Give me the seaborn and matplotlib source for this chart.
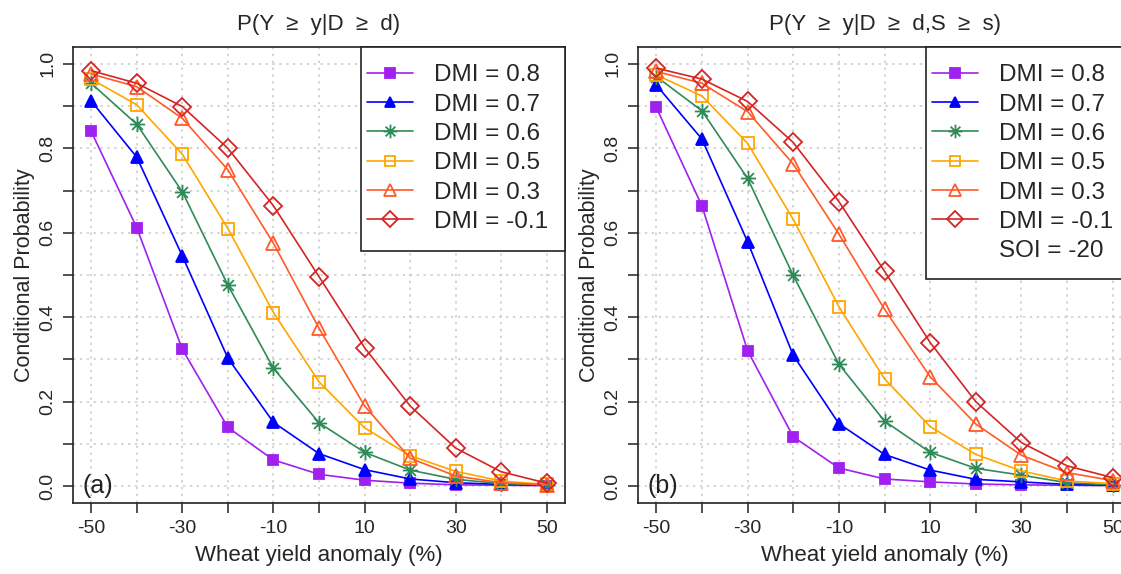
import numpy as np
import pandas as pd
import seaborn as sns
import matplotlib
matplotlib.use("Agg")
import matplotlib.pyplot as plt
from matplotlib.path import Path
from matplotlib.lines import Line2D
from matplotlib.patches import Rectangle

# Wheat yield anomaly thresholds (%)
anomaly = [-50, -40, -30, -20, -10, 0, 10, 20, 30, 40, 50]

series_labels = ["DMI = 0.8", "DMI = 0.7", "DMI = 0.6", "DMI = 0.5", "DMI = 0.3", "DMI = -0.1"]

# (a) P(Y >= y | D >= d)
prob_a_dmi08 = [0.840, 0.612, 0.324, 0.139, 0.062, 0.028, 0.014, 0.007, 0.003, 0.002, 0.001]
prob_a_dmi07 = [0.912, 0.779, 0.545, 0.303, 0.151, 0.077, 0.039, 0.017, 0.008, 0.004, 0.002]
prob_a_dmi06 = [0.954, 0.857, 0.697, 0.476, 0.279, 0.150, 0.080, 0.038, 0.016, 0.006, 0.003]
prob_a_dmi05 = [0.964, 0.903, 0.786, 0.610, 0.411, 0.247, 0.138, 0.072, 0.035, 0.012, 0.004]
prob_a_dmi03 = [0.976, 0.946, 0.871, 0.749, 0.575, 0.374, 0.190, 0.066, 0.024, 0.008, 0.003]
prob_a_dmim01 = [0.984, 0.954, 0.899, 0.800, 0.664, 0.496, 0.328, 0.190, 0.090, 0.034, 0.007]

# (b) P(Y >= y | D >= d, S >= s), SOI = -20
prob_b_dmi08 = [0.897, 0.664, 0.321, 0.117, 0.043, 0.017, 0.010, 0.005, 0.003, 0.002, 0.001]
prob_b_dmi07 = [0.950, 0.822, 0.579, 0.310, 0.148, 0.075, 0.038, 0.016, 0.010, 0.004, 0.002]
prob_b_dmi06 = [0.970, 0.889, 0.729, 0.499, 0.289, 0.154, 0.080, 0.042, 0.026, 0.008, 0.003]
prob_b_dmi05 = [0.974, 0.924, 0.812, 0.632, 0.425, 0.254, 0.141, 0.075, 0.036, 0.012, 0.006]
prob_b_dmi03 = [0.982, 0.954, 0.887, 0.763, 0.597, 0.419, 0.259, 0.147, 0.073, 0.032, 0.013]
prob_b_dmim01 = [0.990, 0.964, 0.911, 0.814, 0.674, 0.509, 0.340, 0.200, 0.103, 0.048, 0.020]

panel_a = [prob_a_dmi08, prob_a_dmi07, prob_a_dmi06, prob_a_dmi05, prob_a_dmi03, prob_a_dmim01]
panel_b = [prob_b_dmi08, prob_b_dmi07, prob_b_dmi06, prob_b_dmi05, prob_b_dmi03, prob_b_dmim01]

x_ticks = list(range(-50, 51, 10))
x_labels = ["-50", "", "-30", "", "-10", "", "10", "", "30", "", "50"]
y_ticks = [round(v * 0.1, 1) for v in range(11)]
y_labels = ["0.0", "", "0.2", "", "0.4", "", "0.6", "", "0.8", "", "1.0"]

# asterisk marker: a plus overlaid with a cross
star_path = Path(
    [(-1, 0), (1, 0), (0, -1), (0, 1),
     (-0.707, -0.707), (0.707, 0.707), (-0.707, 0.707), (0.707, -0.707)],
    [Path.MOVETO, Path.LINETO] * 4,
)

colors = ["#A020F0", "#0000FF", "#2E8B57", "#FFA500", "#FF5A28", "#D42424"]
markers = ["s", "^", star_path, "s", "^", "D"]
filled = [True, True, False, False, False, False]
msizes = [7.5, 8.5, 11, 8.5, 10, 9.5]

sns.set_style("ticks")
plt.rcParams["font.family"] = ["Liberation Sans", "DejaVu Sans"]
plt.rcParams["axes.unicode_minus"] = False

FIG_W, FIG_H = 1121, 574
fig = plt.figure(figsize=(FIG_W / 100, FIG_H / 100), dpi=100)
ax_a = fig.add_axes([73 / FIG_W, 71 / FIG_H, 492 / FIG_W, 456 / FIG_H])
ax_b = fig.add_axes([638 / FIG_W, 71 / FIG_H, 493 / FIG_W, 456 / FIG_H])


def draw_panel(ax, values, title, tag, box, extra_label=None):
    for vals, lab, col, mk, fl, ms in zip(values, series_labels, colors, markers, filled, msizes):
        df = pd.DataFrame({"anomaly": anomaly, "prob": vals})
        sns.lineplot(
            data=df, x="anomaly", y="prob", ax=ax, color=col, lw=1.2,
            marker=mk, markersize=ms,
            markerfacecolor=col if fl else "none",
            markeredgecolor=col, markeredgewidth=1.3,
            label=lab, legend=False, zorder=3,
        )
    ax.set_xlim(-54, 54)
    ax.set_ylim(-0.04, 1.04)
    ax.set_xticks(x_ticks)
    ax.set_xticklabels(x_labels, fontsize=14)
    ax.set_yticks(y_ticks)
    ax.set_yticklabels(y_labels, fontsize=14, rotation=90, va="center")
    ax.tick_params(direction="out", length=7, width=1.1, color="#222222", pad=5)
    ax.grid(True, color="#c8c8c8", linestyle=(0, (1.5, 3)), lw=1.1)
    ax.set_axisbelow(True)
    for s in ax.spines.values():
        s.set_color("#222222")
        s.set_linewidth(1.2)
    ax.set_xlabel("Wheat yield anomaly (%)", fontsize=16, labelpad=6)
    ax.set_ylabel("Conditional Probability", fontsize=15.5, labelpad=3)
    ax.set_title(title, fontsize=16, pad=12)
    ax.text(-52.0, 0.0, tag, fontsize=18, va="center", ha="left", color="#222222")

    # legend frame (axes fraction: left, bottom)
    bx, by = box
    ax.add_patch(Rectangle((bx, by), 1.0 - bx, 1.0 - by, transform=ax.transAxes,
                           facecolor="white", edgecolor="#222222", lw=1.2,
                           zorder=4, clip_on=False))

    handles = [
        Line2D([], [], color=col, lw=1.2, marker=mk, markersize=ms * 0.9,
               markerfacecolor=col if fl else "none", markeredgecolor=col,
               markeredgewidth=1.3)
        for col, mk, fl, ms in zip(colors, markers, filled, msizes)
    ]
    labels = list(series_labels)
    if extra_label is not None:
        handles.append(Line2D([], [], color="none", lw=0))
        labels.append(extra_label)
    leg = ax.legend(
        handles, labels, loc="upper left",
        bbox_to_anchor=(bx + 6 / 492, 0.962), bbox_transform=ax.transAxes,
        borderaxespad=0.0, borderpad=0.0, fontsize=17.5, frameon=False,
        handlelength=1.9, handletextpad=0.85, labelspacing=0.3,
    )
    leg.set_zorder(5)


draw_panel(ax_a, panel_a, "P(Y  \u2265  y|D  \u2265  d)", "(a)", box=(0.5854, 0.5526))
draw_panel(ax_b, panel_b, "P(Y  \u2265  y|D  \u2265  d,S  \u2265  s)", "(b)",
           box=(0.584, 0.4906), extra_label="SOI = -20")

fig.savefig("out.png", dpi=100)
